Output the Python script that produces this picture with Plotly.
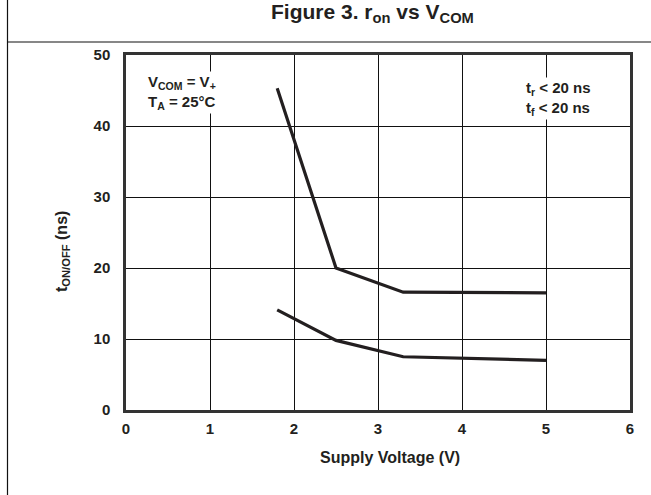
import plotly.graph_objects as go

# Data
supply_v = [1.8, 2.5, 3.3, 5.0]
t_upper = [45.3, 20.0, 16.6, 16.5]
t_lower = [14.1, 9.8, 7.5, 7.0]

x_ticks = [0, 1, 2, 3, 4, 5, 6]
y_ticks = [0, 10, 20, 30, 40, 50]

W, H = 651, 495
L, R, T, B = 126, 21, 55, 85
pw, ph = W - L - R, H - T - B

def px2paper_x(px):
    return (px - L) / pw

def px2paper_y(py):
    return (H - B - py) / ph

FONT = "Liberation Sans, Arial, sans-serif"
TXT = "#231f20"
LINE = "#231f20"

fig = go.Figure()
for ys in (t_upper, t_lower):
    fig.add_trace(go.Scatter(x=supply_v, y=ys, mode="lines",
                             line=dict(color=LINE, width=3.2),
                             showlegend=False, hoverinfo="skip"))

fig.update_layout(
    width=W, height=H,
    margin=dict(l=L, r=R, t=T, b=B),
    paper_bgcolor="white", plot_bgcolor="white",
    font=dict(family=FONT, color=TXT, size=15),
    showlegend=False,
)
fig.update_xaxes(range=[0, 6], tickvals=x_ticks, ticktext=[f"<b>{v}</b>" for v in x_ticks],
                 showgrid=True, gridcolor="#111", gridwidth=1,
                 showline=True, linecolor="#333", linewidth=2.5, mirror=True,
                 zeroline=False, ticks="", ticklabelstandoff=3,
                 tickfont=dict(size=15, family=FONT, color=TXT))
fig.update_yaxes(range=[0, 50], tickvals=y_ticks, ticktext=[f"<b>{v}</b>" for v in y_ticks],
                 showgrid=True, gridcolor="#111", gridwidth=1,
                 showline=True, linecolor="#333", linewidth=2.5, mirror=True,
                 zeroline=False, ticks="", ticklabelstandoff=10,
                 tickfont=dict(size=15, family=FONT, color=TXT))

ann = []
# Title
ann.append(dict(text="<b>Figure 3. r<sub>on</sub> vs V<sub>COM</sub></b>", xref="paper", yref="paper",
                x=px2paper_x(372), y=px2paper_y(13), xanchor="center", yanchor="middle",
                showarrow=False, font=dict(size=21, family=FONT, color=TXT)))
# Axis titles
ann.append(dict(text="<b>Supply Voltage (V)</b>", xref="paper", yref="paper",
                x=px2paper_x(390), y=px2paper_y(457), xanchor="center", yanchor="middle",
                showarrow=False, font=dict(size=16, family=FONT, color=TXT)))
ann.append(dict(text="<b>t<sub>ON/OFF</sub> (ns)</b>", xref="paper", yref="paper",
                x=px2paper_x(63), y=px2paper_y(252), xanchor="center", yanchor="middle",
                textangle=-90, showarrow=False, font=dict(size=16, family=FONT, color=TXT)))
# In-plot notes
ann.append(dict(text="<b>V<sub>COM</sub> = V<sub>+</sub><br>T<sub>A</sub> = 25°C</b>", xref="paper", yref="paper",
                x=px2paper_x(146), y=px2paper_y(92), xanchor="left", yanchor="middle", align="left",
                showarrow=False, bgcolor="white", font=dict(size=15, family=FONT, color=TXT)))
ann.append(dict(text="<b>t<sub>r</sub> < 20 ns<br>t<sub>f</sub> < 20 ns</b>", xref="paper", yref="paper",
                x=px2paper_x(593), y=px2paper_y(99), xanchor="right", yanchor="middle", align="left",
                showarrow=False, bgcolor="white", font=dict(size=15, family=FONT, color=TXT)))
fig.update_layout(annotations=ann)

# Frame decorations: left border and separator under the title
fig.add_shape(type="line", xref="paper", yref="paper",
              x0=px2paper_x(7.5), x1=px2paper_x(7.5), y0=px2paper_y(0), y1=px2paper_y(H),
              line=dict(color="#111", width=1.2))
fig.add_shape(type="line", xref="paper", yref="paper",
              x0=px2paper_x(7.5), x1=px2paper_x(W), y0=px2paper_y(42), y1=px2paper_y(42),
              line=dict(color="#111", width=1.2))

fig.write_html("out.html", config={"displayModeBar": False},
               post_script="document.body.style.margin='0';document.body.style.overflow='hidden';")
